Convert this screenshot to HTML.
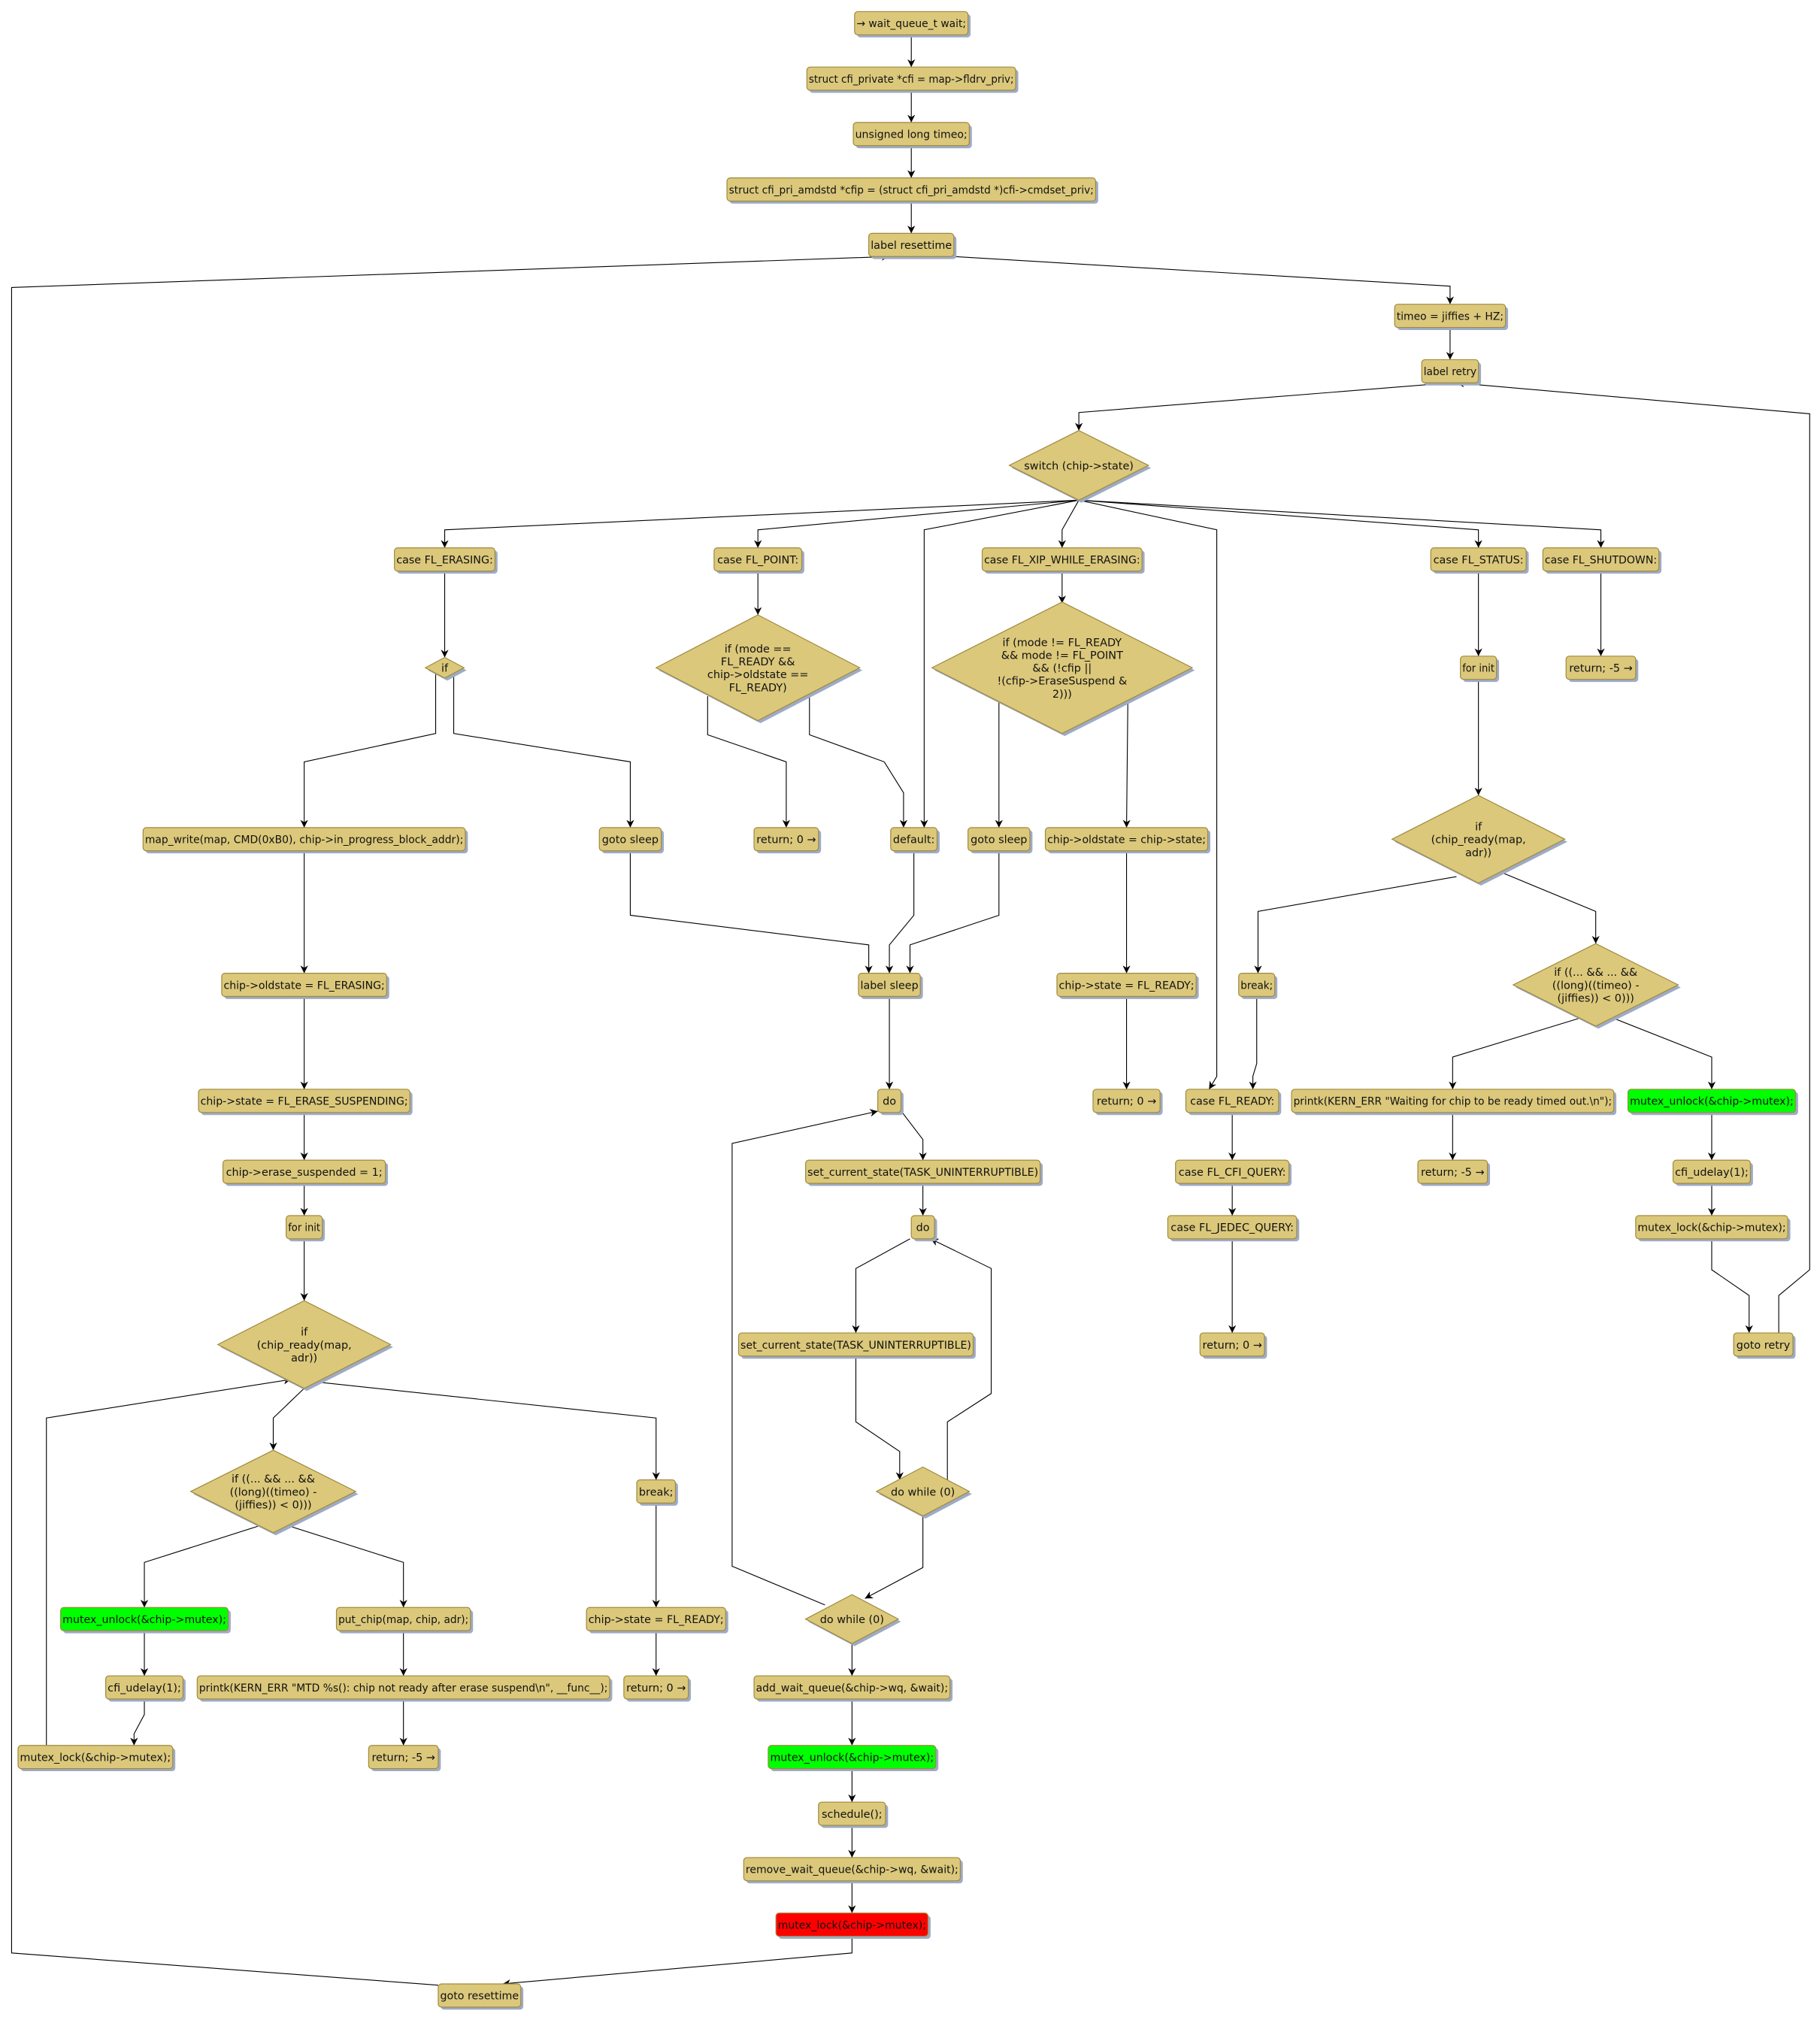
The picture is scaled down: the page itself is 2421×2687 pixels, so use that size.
<!DOCTYPE html>
<html><head><meta charset="utf-8">
<style>
html,body{margin:0;padding:0;background:#fff;}
svg{display:block;}
text{font-family:"DejaVu Sans","Liberation Sans",sans-serif;font-size:8.4px;fill:#111;}
</style></head><body>
<svg id="s" xmlns="http://www.w3.org/2000/svg" width="2421" height="2687" viewBox="0 0 1412 1567" preserveAspectRatio="none">
<defs><marker id="a" viewBox="0 0 10 10" refX="10" refY="5" markerWidth="6" markerHeight="6" orient="auto" markerUnits="userSpaceOnUse"><path d="M0,0 L10,5 L0,10 L3,5 z" fill="#000"/></marker></defs>
<g id="e"></g><g id="n"></g>
</svg>
<script>
var NS="http://www.w3.org/2000/svg";
function el(t,a,p){var e=document.createElementNS(NS,t);for(var k in a)e.setAttribute(k,a[k]);p.appendChild(e);return e;}
var G=document.getElementById('n'),E=document.getElementById('e');
var F="#dbc87b",S="#a08a3e",SH="#9eabc6";
var B=[
[707,18,88,"→ wait_queue_t wait;"],
[707,61,162,"struct cfi_private *cfi = map->fldrv_priv;"],
[707,104,90,"unsigned long timeo;"],
[707,147,286,"struct cfi_pri_amdstd *cfip = (struct cfi_pri_amdstd *)cfi->cmdset_priv;"],
[707,190,66,"label resettime"],
[1125,245,86,"timeo = jiffies + HZ;"],
[1125,288,44,"label retry"],
[345,434,78,"case FL_ERASING:"],
[588,434,68,"case FL_POINT:"],
[824,434,124,"case FL_XIP_WHILE_ERASING:"],
[1147,434,74,"case FL_STATUS:"],
[1242,434,90,"case FL_SHUTDOWN:"],
[1147,518,28,"for init"],
[1242,518,54,"return; -5 →"],
[236,651,250,"map_write(map, CMD(0xB0), chip->in_progress_block_addr);"],
[489,651,48,"goto sleep"],
[610,651,50,"return; 0 →"],
[709,651,36,"default:"],
[775,651,48,"goto sleep"],
[874,651,126,"chip->oldstate = chip->state;"],
[236,764,128,"chip->oldstate = FL_ERASING;"],
[690,764,48,"label sleep"],
[874,764,108,"chip->state = FL_READY;"],
[975,764,28,"break;"],
[236,854,164,"chip->state = FL_ERASE_SUSPENDING;"],
[690,854,18,"do"],
[874,854,52,"return; 0 →"],
[956,854,72,"case FL_READY:"],
[1127,854,250,"printk(KERN_ERR \"Waiting for chip to be ready timed out.\\n\");"],
[1328,854,130,"mutex_unlock(&chip->mutex);","#00ff00"],
[236,909,126,"chip->erase_suspended = 1;"],
[716,909,182,"set_current_state(TASK_UNINTERRUPTIBLE)"],
[956,909,88,"case FL_CFI_QUERY:"],
[1127,909,54,"return; -5 →"],
[1328,909,60,"cfi_udelay(1);"],
[236,952,28,"for init"],
[716,952,18,"do"],
[956,952,100,"case FL_JEDEC_QUERY:"],
[1328,952,118,"mutex_lock(&chip->mutex);"],
[664,1043,182,"set_current_state(TASK_UNINTERRUPTIBLE)"],
[956,1043,50,"return; 0 →"],
[1368,1043,46,"goto retry"],
[509,1157,30,"break;"],
[112,1256,130,"mutex_unlock(&chip->mutex);","#00ff00"],
[313,1256,104,"put_chip(map, chip, adr);"],
[509,1256,108,"chip->state = FL_READY;"],
[112,1309,60,"cfi_udelay(1);"],
[313,1309,320,"printk(KERN_ERR \"MTD %s(): chip not ready after erase suspend\\n\", __func__);"],
[509,1309,50,"return; 0 →"],
[661,1309,152,"add_wait_queue(&chip->wq, &wait);"],
[74,1363,120,"mutex_lock(&chip->mutex);"],
[313,1363,54,"return; -5 →"],
[661,1363,130,"mutex_unlock(&chip->mutex);","#00ff00"],
[661,1407,52,"schedule();"],
[661,1450,168,"remove_wait_queue(&chip->wq, &wait);"],
[661,1493,118,"mutex_lock(&chip->mutex);","#ff0000"],
[372,1548,64,"goto resettime"]
];
var D=[
[837,361,108,54,["switch (chip->state)"]],
[345,518,30,16,["if"]],
[588,518,158,82,["if (mode ==","FL_READY &&","chip->oldstate ==","FL_READY)"]],
[824,518,202,102,["if (mode != FL_READY","&& mode != FL_POINT","&& (!cfip ||","!(cfip->EraseSuspend &","2)))"]],
[1147,651,134,68,["if","(chip_ready(map,","adr))"]],
[1238,764,128,64,["if ((... && ... &&","((long)((timeo) -","(jiffies)) < 0)))"]],
[236,1043,134,68,["if","(chip_ready(map,","adr))"]],
[212,1157,128,64,["if ((... && ... &&","((long)((timeo) -","(jiffies)) < 0)))"]],
[716,1157,72,38,["do while (0)"]],
[661,1256,72,38,["do while (0)"]]
];
var L=[
"707,27 707,52","707,70 707,95","707,113 707,138","707,156 707,181",
"740,199 1125,222 1125,236","1125,254 1125,279","1125,297 837,320 837,334",
"340,1540 9,1515 9,223 690,199","661,1502 661,1515 390,1539",
"1380,1034 1380,1005 1404,985 1404,321 1130,297",
"837,388 345,411 345,425","837,388 588,411 588,425","837,388 717,411 717,642",
"837,388 824,411 824,425","837,388 944,411 944,835 938,845",
"837,388 1147,411 1147,425","837,388 1242,411 1242,425",
"345,443 345,510","338,522 338,569 236,591 236,642","352,522 352,569 489,591 489,642",
"588,443 588,477","549,540 549,570 610,591 610,642","628,540 628,570 686,591 701,615 701,642",
"824,443 824,468","775,545 775,642","875,545 874,642",
"489,660 489,710 674,733 674,755","709,660 709,710 690,733 690,755","775,660 775,710 706,733 706,755",
"690,773 690,845","700,863 716,884 716,900","716,918 716,943",
"706,961 664,984 664,1034","664,1052 664,1103 698,1126 698,1148",
"735,1148 735,1103 769,1081 769,984 722,961","716,1176 716,1216 671,1240",
"640,1245 568,1215 568,887 681,862",
"661,1275 661,1300","661,1318 661,1354","661,1372 661,1398","661,1416 661,1441","661,1459 661,1484",
"874,660 874,755","874,773 874,845",
"1147,443 1147,509","1147,527 1147,617",
"1130,680 976,707 976,755","1163,676 1238,707 1238,732",
"975,773 975,825 972,835 972,845",
"956,863 956,900","956,918 956,943","956,961 956,1034",
"1225,790 1127,820 1127,845","1252,790 1328,820 1328,845",
"1127,863 1127,900","1328,863 1328,900","1328,918 1328,943",
"1328,961 1328,985 1357,1005 1357,1034","1242,443 1242,509",
"236,660 236,755","236,773 236,845","236,863 236,900","236,918 236,943","236,961 236,1009",
"236,1077 212,1100 212,1125","245,1072 509,1100 509,1148",
"36,1354 36,1100 226,1070",
"200,1184 112,1212 112,1247","225,1184 313,1212 313,1247",
"112,1265 112,1300","112,1318 112,1330 104,1345 104,1354",
"313,1265 313,1300","313,1318 313,1354",
"509,1166 509,1247","509,1265 509,1300"
];
L.forEach(function(p){el('polyline',{points:p,fill:'none',stroke:'#000','stroke-width':0.65,'marker-end':'url(#a)'},E);});
function txt(x,y,s,maxw){var t=el('text',{x:x,y:y,'text-anchor':'middle'},G);t.textContent=s;
 if(maxw){try{var w=t.getComputedTextLength();if(w>maxw){t.setAttribute('textLength',maxw);t.setAttribute('lengthAdjust','spacingAndGlyphs');}}catch(e){}}}
B.forEach(function(b){var x=b[0]-b[2]/2,y=b[1]-9;
 el('rect',{x:x+2,y:y+2,width:b[2],height:18,rx:2.5,fill:SH},G);
 el('rect',{x:x,y:y,width:b[2],height:18,rx:2.5,fill:b[4]||F,stroke:S,'stroke-width':0.7},G);
 txt(b[0],b[1]+3.1,b[3],b[2]-3);});
D.forEach(function(d){var cx=d[0],cy=d[1],w=d[2]/2,h=d[3]/2;
 var p=function(o){return (cx-w+o)+','+(cy+o)+' '+(cx+o)+','+(cy-h+o)+' '+(cx+w+o)+','+(cy+o)+' '+(cx+o)+','+(cy+h+o);};
 el('polygon',{points:p(2),fill:SH},G);
 el('polygon',{points:p(0),fill:F,stroke:S,'stroke-width':0.7},G);
 var n=d[4].length,lh=10,y0=cy-(n-1)*lh/2+3.1;
 d[4].forEach(function(s,i){txt(cx,y0+i*lh,s,d[2]*0.85);});});
</script>
</body></html>
